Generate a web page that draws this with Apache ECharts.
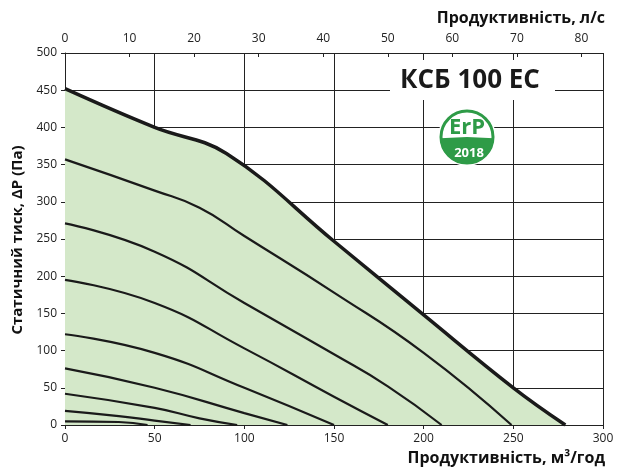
<!DOCTYPE html>
<html><head><meta charset="utf-8">
<script src="https://cdn.jsdelivr.net/npm/echarts@6/dist/echarts.min.js"></script>
<style>html,body{margin:0;padding:0;background:#fff}#c{width:629px;height:475px}</style>
</head><body><div id="c"></div>
<script>
const maxCurve = [[0,452],[50,400],[90,365],[150,247],[200,148],[250,50],[279,0]];
const curve1 = [[0,357],[50,315],[75,292],[100,254],[150,178],[200,97],[249,0]];
const curve2 = [[0,271],[50,233],[100,164],[150,95],[180,52],[210,0]];
const curve3 = [[0,195],[50,164],[100,103],[150,38],[180,0]];
const curve4 = [[0,122],[50,97],[100,50],[150,0]];
const curve5 = [[0,76],[50,50],[100,16],[124,0]];
const curve6 = [[0,42],[50,23],[75,9],[96,0]];
const curve7 = [[0,19],[30,12],[50,6],[70,0]];
const curve8 = [[0,5],[30,4],[46,0]];
const inner = [curve1,curve2,curve3,curve4,curve5,curve6,curve7,curve8];
const fontF = '"Open Sans", "Noto Sans", sans-serif';
const chart = echarts.init(document.getElementById('c'));
const series = [{type:'line',data:maxCurve,smooth:0.4,symbol:'none',lineStyle:{color:'#1a1a1a',width:3.5},areaStyle:{color:'#d4e8c9',opacity:1},z:3}];
inner.forEach(d=>series.push({type:'line',data:d,smooth:0.5,symbol:'none',lineStyle:{color:'#1a1a1a',width:2.2},z:4}));
chart.setOption({
  animation:false,
  grid:{left:65,right:26,top:53,bottom:50},
  xAxis:[
    {type:'value',min:0,max:300,interval:50,position:'bottom',
     axisLine:{lineStyle:{color:'#222'}},axisTick:{show:true,length:4,lineStyle:{color:'#222'}},
     axisLabel:{color:'#222',fontSize:12,fontFamily:fontF},
     splitLine:{lineStyle:{color:'#222',width:1}}},
    {type:'value',min:0,max:300/3.6,interval:10,position:'top',
     axisLine:{lineStyle:{color:'#222'}},axisTick:{show:true,length:4,inside:true,lineStyle:{color:'#222'}},
     axisLabel:{color:'#222',fontSize:12,fontFamily:fontF,formatter:v=>v>80?'':v},
     splitLine:{show:false}}
  ],
  yAxis:{type:'value',min:0,max:500,interval:50,
    axisLine:{show:true,lineStyle:{color:'#222'}},axisTick:{show:true,length:4,lineStyle:{color:'#222'}},
    axisLabel:{color:'#222',fontSize:12,fontFamily:fontF},
    splitLine:{lineStyle:{color:'#222',width:1}}},
  series:series,
  graphic:[
    {type:'text',right:24,top:10,style:{text:'Продуктивність, л/с',font:'bold 16px '+fontF,fill:'#111'}},
    {type:'text',right:24,top:450,style:{text:'Продуктивність, м³/год',font:'bold 16px '+fontF,fill:'#111'}},
    {type:'text',rotation:Math.PI/2,style:{text:'Статичний тиск, ΔP (Па)',font:'bold 15px '+fontF,fill:'#111',align:'center',verticalAlign:'middle'},x:18,y:240},
    {type:'rect',shape:{x:390,y:60,width:165,height:40},style:{fill:'#fff'},z:10},
    {type:'text',x:470,y:81,style:{text:'КСБ 100 ЕС',font:'bold 26px '+fontF,fill:'#1a1a1a',align:'center',verticalAlign:'middle'},z:11},
    {type:'circle',shape:{cx:467,cy:137,r:29},style:{fill:'#fff'},z:10},
    {type:'circle',shape:{cx:467,cy:137,r:26},style:{fill:'#fff',stroke:'#2e9b47',lineWidth:3},z:11},
    {type:'sector',shape:{cx:467,cy:137,r:27,r0:0,startAngle:0.05,endAngle:Math.PI-0.05},style:{fill:'#2e9b47'},z:11},
    {type:'text',x:467,y:128,style:{text:'ErP',font:'bold 22px '+fontF,fill:'#2e9b47',align:'center',verticalAlign:'middle'},z:12},
    {type:'text',x:469,y:153,style:{text:'2018',font:'bold 13px '+fontF,fill:'#fff',align:'center',verticalAlign:'middle'},z:12}
  ]
});
</script></body></html>
